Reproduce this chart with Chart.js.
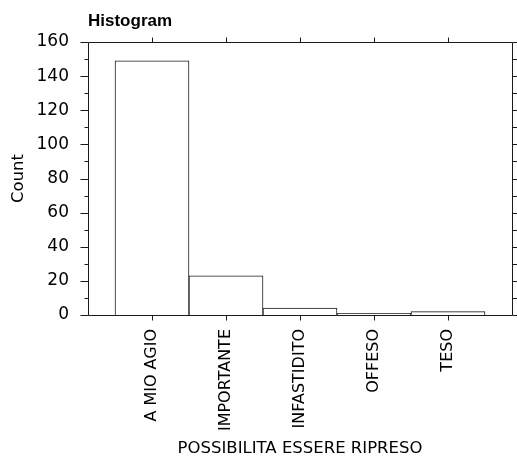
<!DOCTYPE html>
<html>
<head>
<meta charset="utf-8">
<script src="https://cdn.jsdelivr.net/npm/chart.js@4"></script>
<style>
  html, body { margin: 0; padding: 0; background: #fff; }
  canvas { display: block; }
</style>
</head>
<body>
<canvas id="histogram" width="517" height="459"></canvas>
<script>
const categories = ['A MIO AGIO', 'IMPORTANTE', 'INFASTIDITO', 'OFFESO', 'TESO']
const counts = [149, 23, 4, 1, 2]
const yMajorTicks = [0, 20, 40, 60, 80, 100, 120, 140, 160]
const yMinorTicks = [10, 30, 50, 70, 90, 110, 130, 150]

const lineColor = '#1a1a1a'

// frame round the plot, with ticks on all four sides
const frameTicks = {
	id: 'frameTicks',
	afterDatasetsDraw(chart) {
		const { ctx, chartArea: a, scales: { x, y } } = chart
		const px = v => Math.round(v) + 0.5
		const left = px(a.left), right = px(a.right), top = px(a.top), bottom = px(a.bottom)
		ctx.save()
		ctx.strokeStyle = lineColor
		ctx.lineWidth = 1
		ctx.beginPath()
		ctx.rect(left, top, right - left, bottom - top)
		yMajorTicks.forEach(v => {
			const py = px(y.getPixelForValue(v))
			ctx.moveTo(left - 8, py); ctx.lineTo(left, py)
			ctx.moveTo(right, py); ctx.lineTo(right + 5, py)
		})
		yMinorTicks.forEach(v => {
			const py = px(y.getPixelForValue(v))
			ctx.moveTo(left - 4, py); ctx.lineTo(left, py)
			ctx.moveTo(right, py); ctx.lineTo(right + 5, py)
		})
		categories.forEach((c, i) => {
			const pxx = px(x.getPixelForValue(i))
			ctx.moveTo(pxx, top - 5); ctx.lineTo(pxx, top)
			ctx.moveTo(pxx, bottom); ctx.lineTo(pxx, bottom + 5)
		})
		ctx.stroke()
		ctx.restore()
	}
}

new Chart('histogram', {
	type: 'bar',
	data: {
		datasets: [
			{
				data: categories.map((c, i) => ({ x: i, y: counts[i] })),
				backgroundColor: '#ffffff',
				borderColor: lineColor,
				borderWidth: 1,
				barPercentage: 1,
				categoryPercentage: 1
			}
		]
	},
	options: {
		responsive: false,
		animation: false,
		devicePixelRatio: 1,
		layout: { padding: { top: 0, right: 5, bottom: 0, left: 0 } },
		plugins: {
			legend: { display: false },
			tooltip: { enabled: false },
			title: {
				display: true,
				text: 'Histogram',
				align: 'start',
				fullSize: false,
				color: '#000',
				font: { family: 'Liberation Sans', size: 17, weight: 'bold' },
				padding: { top: 11, bottom: 10.6 }
			}
		},
		scales: {
			x: {
				type: 'linear',
				min: -0.865,
				max: 4.865,
				offset: false,
				grid: { display: false, drawTicks: false, offset: false },
				border: { display: false },
				afterBuildTicks: s => {
					s.ticks = categories.map((c, i) => ({ value: i }))
				},
				afterFit: s => {
					s.height = 144
				},
				ticks: {
					autoSkip: false,
					minRotation: 90,
					maxRotation: 90,
					padding: 14,
					color: '#000',
					font: { family: 'DejaVu Sans', size: 16 },
					callback: v => categories[v]
				},
				title: {
					display: true,
					text: 'POSSIBILITA ESSERE RIPRESO',
					color: '#000',
					font: { family: 'DejaVu Sans', size: 16.5 },
					padding: { top: 0, bottom: 0 }
				}
			},
			y: {
				min: 0,
				max: 160,
				grid: { display: false, drawTicks: false },
				border: { display: false },
				afterFit: s => {
					s.width = 88
				},
				ticks: {
					stepSize: 20,
					padding: 19,
					color: '#000',
					font: { family: 'DejaVu Sans', size: 17 }
				},
				title: {
					display: true,
					text: 'Count',
					color: '#000',
					font: { family: 'DejaVu Sans', size: 16.5 },
					padding: { top: 9, bottom: 0 }
				}
			}
		}
	},
	plugins: [frameTicks]
})
</script>
</body>
</html>
